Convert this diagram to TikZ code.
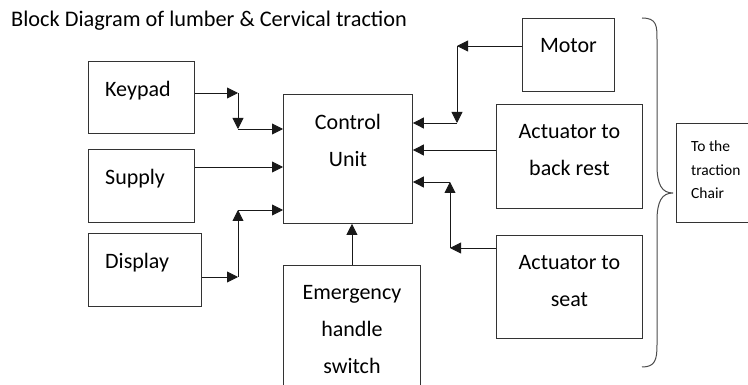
\documentclass[tikz,border=0pt]{standalone}
\usepackage{fontspec}
\setmainfont{Carlito}
\usetikzlibrary{arrows.meta}

\begin{document}
\begin{tikzpicture}[
    x=1pt, y=-1pt,
    font=\fontsize{22}{37}\selectfont,
    % Box styles:
    block/.style={rectangle, draw=black!80, line width=0.9pt, anchor=north west, inner sep=0pt},
    inside/.style={anchor=north, inner sep=0pt, yshift=-20pt, align=center},
    insideleft/.style={anchor=north west, inner sep=0pt, xshift=17pt, yshift=-20pt},
    % Arrow style:
    line/.style={-{Triangle[length=11pt,width=11pt]}, draw=black!90, line width=0.9pt},
]
\useasboundingbox (0,0) rectangle (748,385);

% --- TITLE ---
\node[anchor=base west, inner sep=0pt, font=\fontsize{22.3}{26}\selectfont]
      (title) at (11,27) {Block Diagram of lumber \& Cervical traction};

% --- INPUT BOXES (left) ---
\node[block, minimum width=106pt, minimum height=72pt,
      label={[insideleft]north west:Keypad}]  (keypad)  at (88,61)  {};
\node[block, minimum width=106pt, minimum height=73pt,
      label={[insideleft]north west:Supply}]  (supply)  at (88,149) {};
\node[block, minimum width=113pt, minimum height=73pt,
      label={[insideleft]north west:Display}] (display) at (88,233) {};

% --- CONTROL UNIT + EMERGENCY ---
\node[block, minimum width=129pt, minimum height=129pt,
      label={[inside]north:Control\\Unit}] (control) at (283,94) {};
\node[block, minimum width=137pt, minimum height=140pt,
      label={[inside]north:Emergency\\handle\\switch}] (emerg) at (283,265) {};

% --- OUTPUT BOXES (right) ---
\node[block, minimum width=92pt, minimum height=73pt,
      label={[inside]north:Motor}] (motor) at (522,18) {};
\node[block, minimum width=146pt, minimum height=104pt,
      label={[inside]north:Actuator to\\back rest}] (back) at (496,104) {};
\node[block, minimum width=146pt, minimum height=103pt,
      label={[inside]north:Actuator to\\seat}] (seat) at (496,235) {};

% "To the traction Chair" on the far right
\node[block, minimum width=90pt, minimum height=99pt,
      label={[anchor=north west, inner sep=0pt, xshift=15pt, yshift=-18pt,
              align=left, font=\fontsize{15.5}{23.5}\selectfont]north west:To the\\traction\\Chair}]
      (chair) at (676,123) {};

% --- JOINTS ---
\coordinate (keyjoin)  at (238,93);
\coordinate (keyin)    at (238,129);
\coordinate (supin)    at (283,167);
\coordinate (dispjoin) at (238,277);
\coordinate (dispin)   at (238,210);
\coordinate (motjoin)  at (457,46);
\coordinate (motin)    at (457,123);
\coordinate (backin)   at (412,150);
\coordinate (seatjoin) at (450,248);
\coordinate (seatin)   at (450,182);

% --- ARROWS ---
% Keypad: right, down, then into control unit
\draw[line] (keypad.east |- keyjoin) -- (keyjoin);
\draw[line] (keyjoin) -- (keyin);
\draw[line] (keyin) -- (keyin -| control.west);

% Supply straight in
\draw[line] (supply.east |- supin) -- (control.west |- supin);

% Display: right, up, then into control unit
\draw[line] (display.east |- dispjoin) -- (dispjoin);
\draw[line] (dispjoin) -- (dispin);
\draw[line] (dispin) -- (dispin -| control.west);

% Emergency switch up into control unit
\draw[line] (emerg.north) -- (emerg.north |- control.south);

% Motor: left, down, then into control unit
\draw[line] (motor.west |- motjoin) -- (motjoin);
\draw[line] (motjoin) -- (motin);
\draw[line] (motin) -- (motin -| control.east);

% Actuator to back rest straight in
\draw[line] (back.west |- backin) -- (control.east |- backin);

% Actuator to seat: left, up, then into control unit
\draw[line] (seat.west |- seatjoin) -- (seatjoin);
\draw[line] (seatjoin) -- (seatin);
\draw[line] (seatin) -- (seatin -| control.east);

% Brace round the actuators
\draw[black!70, line width=1pt] (642,18) .. controls (657,18) and (657,26) .. (657,40)
      -- (657,165) .. controls (657,185) and (662,193) .. (673,193)
      .. controls (662,193) and (657,201) .. (657,221)
      -- (657,345) .. controls (657,360) and (655,367) .. (642,367);

\end{tikzpicture}
\end{document}
